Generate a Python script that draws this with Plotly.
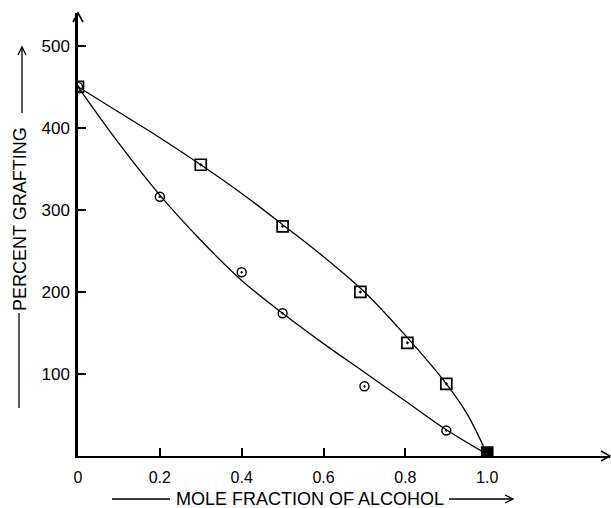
import plotly.graph_objects as go

# ---- data ----
sq_x = [0.0, 0.3, 0.5, 0.69, 0.805, 0.9, 1.0]
sq_y = [450, 355, 280, 200, 138, 88, 4]
ci_x = [0.0, 0.2, 0.4, 0.5, 0.7, 0.9]
ci_y = [450, 316, 224, 174, 85, 31]

# smooth fitted curves
up_x = [0.0, 0.1, 0.2, 0.3, 0.4, 0.5, 0.6, 0.7, 0.8, 0.9, 0.95, 1.0]
up_y = [450, 419, 388, 355, 320, 282, 243, 200, 147, 88, 52, 2]
lo_x = [0.0, 0.1, 0.2, 0.3, 0.4, 0.5, 0.6, 0.7, 0.8, 0.9, 1.0]
lo_y = [450, 381, 318, 263, 214, 174, 137, 102, 67, 32, 2]

x_ticks = [0, 0.2, 0.4, 0.6, 0.8, 1.0]
x_tick_text = ["0", "0.2", "0.4", "0.6", "0.8", "1.0"]
y_ticks = [100, 200, 300, 400, 500]
y_tick_text = ["100", "200", "300", "400", "500"]

x_title = "MOLE FRACTION OF ALCOHOL"
y_title = "PERCENT GRAFTING"

FONT = "Liberation Sans, Arial, sans-serif"
W, H = 611, 508
ML, MR, MT, MB = 78, 1, 13, 52
PW, PH = W - ML - MR, H - MT - MB


def pxp(xpix):
    return (xpix - ML) / PW


def pyp(ypix):
    return (H - MB - ypix) / PH


fig = go.Figure()
fig.add_trace(go.Scatter(x=up_x, y=up_y, mode="lines", line=dict(color="black", width=1.3, shape="spline", smoothing=1.0), hoverinfo="skip"))
fig.add_trace(go.Scatter(x=lo_x, y=lo_y, mode="lines", line=dict(color="black", width=1.3, shape="spline", smoothing=1.0), hoverinfo="skip"))
fig.add_trace(go.Scatter(x=ci_x, y=ci_y, mode="markers",
                         marker=dict(symbol="circle-open-dot", size=9, color="black", line=dict(width=1.4, color="black"))))
sq_sym = ["square-open-dot"] * (len(sq_x) - 1) + ["square"]
fig.add_trace(go.Scatter(x=sq_x, y=sq_y, mode="markers",
                         marker=dict(symbol=sq_sym, size=11, color="black", line=dict(width=1.7, color="black"))))


def chevron(xp, yp, path, w=1.5):
    return dict(type="path", xref="paper", yref="paper", xsizemode="pixel", ysizemode="pixel",
                xanchor=xp, yanchor=yp, path=path, line=dict(color="black", width=w))


shapes = []
# axis arrowheads (open chevrons)
shapes.append(chevron(1.0, 0.0, "M-9,5 L0,0 L-9,-5", 1.6))
shapes.append(chevron(0.0, 1.0, "M-5,-9 L0,0 L5,-9", 1.6))
# x title decorations
shapes.append(dict(type="line", xref="paper", yref="paper", x0=pxp(112), x1=pxp(170), y0=pyp(499), y1=pyp(499),
                   line=dict(color="black", width=1.3)))
shapes.append(dict(type="line", xref="paper", yref="paper", x0=pxp(449), x1=pxp(513), y0=pyp(499), y1=pyp(499),
                   line=dict(color="black", width=1.3)))
shapes.append(chevron(pxp(513), pyp(499), "M-8,4 L0,0 L-8,-4", 1.3))
# y title decorations
shapes.append(dict(type="line", xref="paper", yref="paper", x0=pxp(19), x1=pxp(19), y0=pyp(313), y1=pyp(408),
                   line=dict(color="black", width=1.3)))
shapes.append(dict(type="line", xref="paper", yref="paper", x0=pxp(22), x1=pxp(22), y0=pyp(113), y1=pyp(47),
                   line=dict(color="black", width=1.3)))
shapes.append(chevron(pxp(22), pyp(47), "M-4,-8 L0,0 L4,-8", 1.3))

annotations = [
    dict(text=x_title, xref="paper", yref="paper", x=pxp(310), y=pyp(499), showarrow=False,
         xanchor="center", yanchor="middle", font=dict(family=FONT, size=18, color="black")),
    dict(text=y_title, xref="paper", yref="paper", x=pxp(20), y=pyp(219), showarrow=False, textangle=-90,
         xanchor="center", yanchor="middle", font=dict(family=FONT, size=18, color="black")),
]

fig.update_layout(
    width=W, height=H,
    margin=dict(l=ML, r=MR, t=MT, b=MB),
    paper_bgcolor="white", plot_bgcolor="white",
    showlegend=False,
    shapes=shapes, annotations=annotations,
    xaxis=dict(range=[0, 1.3], showgrid=False, zeroline=False, showline=True, linecolor="black", linewidth=2,
               ticks="inside", ticklen=8, tickwidth=1.5, tickcolor="black",
               tickvals=x_ticks, ticktext=x_tick_text, ticklabelstandoff=6,
               tickfont=dict(family=FONT, size=16, color="black")),
    yaxis=dict(range=[0, 540], showgrid=False, zeroline=False, showline=True, linecolor="black", linewidth=2.5,
               ticks="inside", ticklen=8, tickwidth=1.5, tickcolor="black",
               tickvals=y_ticks, ticktext=y_tick_text, ticklabelstandoff=2,
               tickfont=dict(family=FONT, size=17, color="black")),
)

fig.write_html("out.html")
